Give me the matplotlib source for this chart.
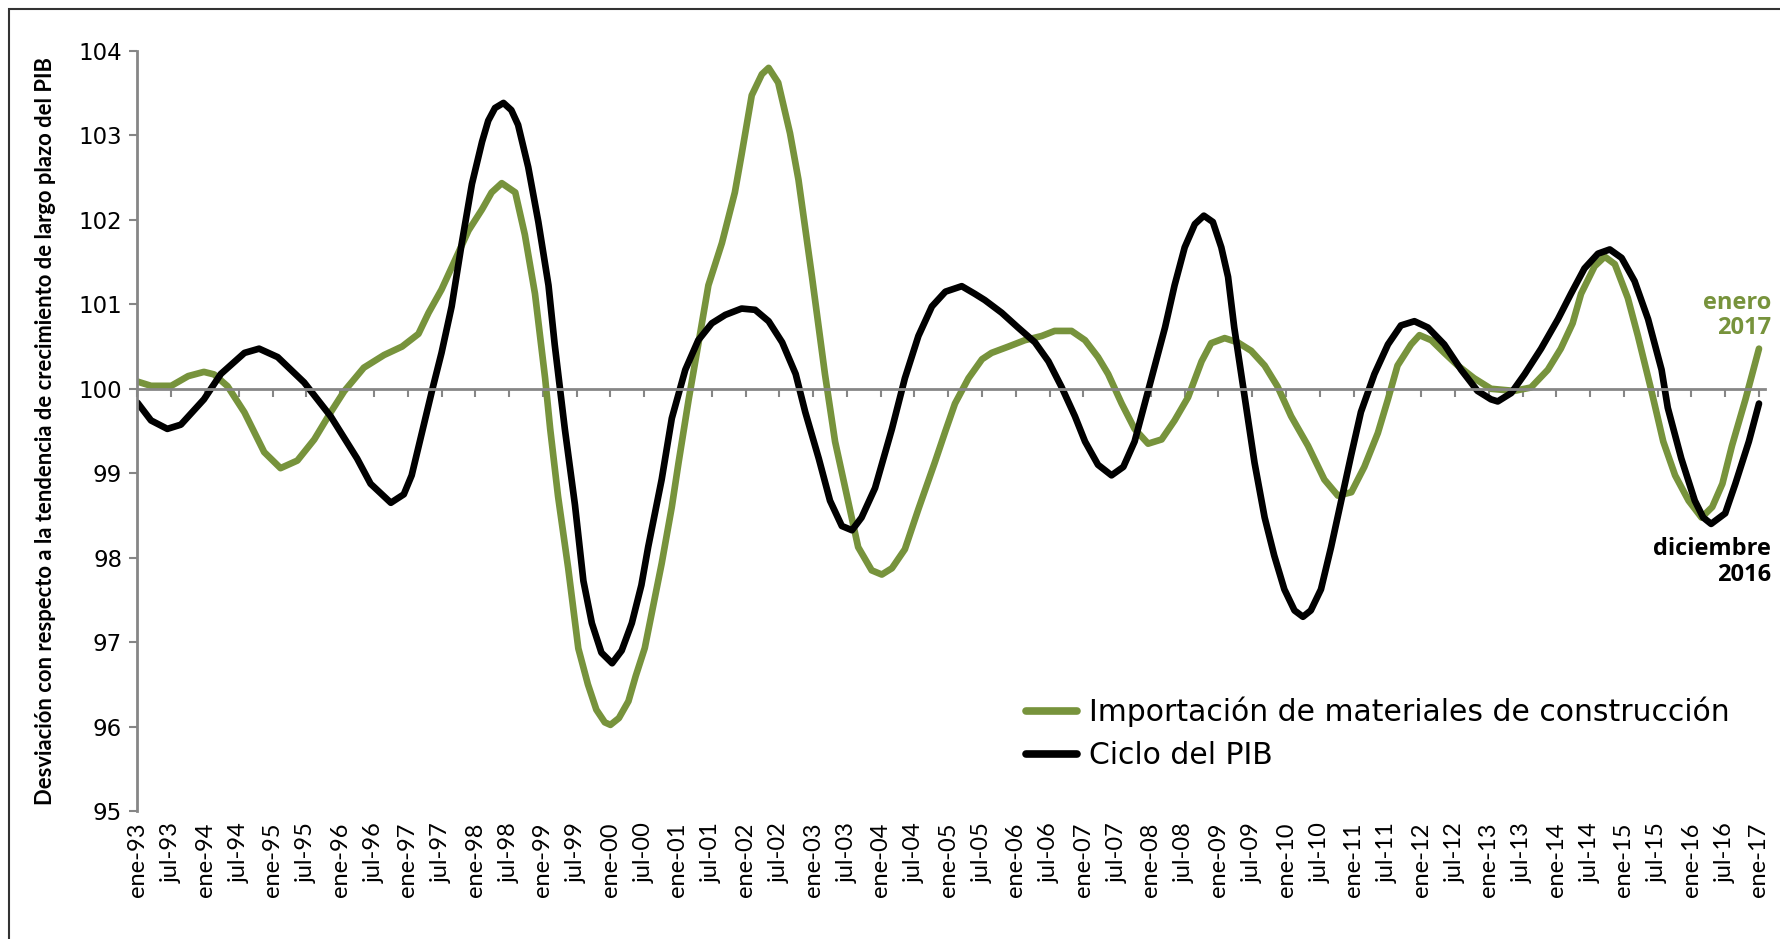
import matplotlib
matplotlib.use("Agg")
import matplotlib.pyplot as plt
from matplotlib.patches import Rectangle

# month offsets from ene-93
imp_months = [0, 2.4, 6, 9, 11.8, 13.6, 16, 19, 22.5, 25.4, 28.4, 31.4, 34.3, 36.7, 40.2, 43.8,
              47, 49.9, 51.7, 54, 56.4, 58.8, 61.2, 62.9, 64.7, 67.1, 68.8, 70.6, 72.4, 73.3,
              74.7, 76.5, 78.3, 80, 81.5, 83, 84, 85.5, 87.2, 88.5, 90.1, 93.1, 94.9, 96.1,
              97.9, 99.6, 101.4, 103.8, 106.1, 107.3, 109.1, 110.9, 112.1, 113.8, 115.9, 117.4,
              119.8, 122.1, 123.9, 125.7, 128, 130.4, 132.2, 134, 136.3, 138.7, 141.6, 143.5,
              145.2, 147.6, 150, 151.7, 154.7, 157.6, 160.6, 162.9, 165.9, 168.3, 170.6, 172.4,
              174.8, 177.1, 179.5, 181.9, 184.2, 186.6, 189, 190.7, 193.1, 195.4, 197.8, 200.2,
              202.5, 204.9, 207.9, 210.8, 213.2, 215.6, 217.9, 220.3, 222.1, 223.8, 226.2,
              227.7, 229.8, 232.1, 234.5, 237.4, 240.4, 244.5, 247.5, 250.5, 252.8, 254.9,
              256.4, 258.8, 260.6, 262.4, 264.7, 266.5, 268.9, 271, 273.1, 275.5, 277.8, 279.7,
              281.5, 283.2, 285.6, 288]
imp_values = [100.085, 100.035, 100.035, 100.15, 100.2, 100.17, 100.03, 99.72, 99.25, 99.06,
              99.15, 99.4, 99.72, 99.97, 100.25, 100.4, 100.5, 100.65, 100.9, 101.175, 101.525,
              101.875, 102.125, 102.325, 102.435, 102.325, 101.825, 101.125, 100.125, 99.525,
              98.725, 97.875, 96.925, 96.5, 96.2, 96.05, 96.02, 96.1, 96.3, 96.6, 96.93, 97.93,
              98.6, 99.125, 99.875, 100.525, 101.225, 101.725, 102.325, 102.775, 103.475,
              103.725, 103.8, 103.625, 103.025, 102.475, 101.325, 100.175, 99.375, 98.825,
              98.125, 97.85, 97.8, 97.875, 98.1, 98.575, 99.125, 99.5, 99.825, 100.125, 100.35,
              100.425, 100.5, 100.575, 100.625, 100.685, 100.685, 100.575, 100.375, 100.175,
              99.825, 99.525, 99.35, 99.4, 99.625, 99.9, 100.325, 100.54, 100.6, 100.55, 100.45,
              100.275, 100.025, 99.675, 99.325, 98.925, 98.735, 98.775, 99.075, 99.475, 99.875,
              100.275, 100.525, 100.635, 100.575, 100.425, 100.275, 100.125, 100.0, 99.975,
              100.015, 100.225, 100.475, 100.775, 101.125, 101.45, 101.565, 101.475, 101.075,
              100.625, 99.975, 99.375, 98.975, 98.675, 98.475, 98.6, 98.875, 99.325, 99.875,
              100.475]

pib_months = [0, 2.4, 5.3, 7.7, 11.8, 14.8, 19, 21.6, 24.9, 29.6, 34.3, 39, 41.4, 45, 47.3,
              48.7, 50.5, 52.3, 54, 55.8, 57.6, 59.4, 61.2, 62.3, 63.5, 65, 66.4, 67.6, 69.4,
              71.2, 73, 74.1, 75.9, 77.7, 79.2, 80.7, 82.4, 84.3, 86, 87.8, 89.5, 90.7, 93.1,
              94.9, 97.3, 99.6, 102, 104.4, 107.3, 109.7, 112.1, 114.5, 116.9, 118.6, 121, 123,
              125.1, 126.9, 128.6, 131, 134, 136.3, 138.7, 141.1, 143.5, 146.4, 148.7, 150.5,
              153.5, 156.4, 159.4, 161.8, 164.1, 166.5, 168.3, 170.6, 173, 175.1, 177.1, 178.9,
              180.7, 182.5, 184.2, 186, 187.8, 189.4, 191, 192.5, 193.7, 194.8, 196.6, 198.4,
              200.2, 201.9, 203.7, 205.5, 207, 208.4, 210.2, 212, 213.8, 215.6, 217.3, 219.7,
              222.1, 224.4, 226.8, 229.2, 232.1, 235.1, 238, 240.4, 241.6, 244, 246.4, 249.3,
              252.3, 254.6, 257, 259.4, 261.5, 263.6, 265.9, 268.3, 270.7, 271.8, 274.2, 276.6,
              278.1, 279.5, 282, 283.8, 286.2, 288]
pib_values = [99.835, 99.625, 99.525, 99.575, 99.875, 100.175, 100.425, 100.475, 100.375,
              100.075, 99.675, 99.175, 98.875, 98.65, 98.75, 98.975, 99.475, 99.975, 100.425,
              100.975, 101.725, 102.425, 102.925, 103.175, 103.325, 103.385, 103.3, 103.125,
              102.625, 101.975, 101.225, 100.525, 99.525, 98.625, 97.725, 97.225, 96.875, 96.75,
              96.9, 97.225, 97.675, 98.125, 98.925, 99.65, 100.225, 100.575, 100.775, 100.875,
              100.95, 100.935, 100.8, 100.55, 100.175, 99.725, 99.175, 98.675, 98.375, 98.325,
              98.475, 98.825, 99.525, 100.125, 100.625, 100.975, 101.15, 101.215, 101.125,
              101.05, 100.9, 100.725, 100.55, 100.325, 100.025, 99.675, 99.375, 99.1, 98.975,
              99.075, 99.375, 99.825, 100.275, 100.725, 101.225, 101.675, 101.95, 102.05,
              101.975, 101.675, 101.325, 100.725, 99.925, 99.125, 98.475, 98.025, 97.625,
              97.375, 97.3, 97.375, 97.625, 98.125, 98.675, 99.225, 99.725, 100.175, 100.525,
              100.75, 100.8, 100.725, 100.525, 100.225, 99.975, 99.875, 99.85, 99.95, 100.175,
              100.475, 100.825, 101.125, 101.425, 101.6, 101.65, 101.55, 101.275, 100.825,
              100.225, 99.775, 99.175, 98.675, 98.475, 98.4, 98.525, 98.875, 99.375, 99.825]

years = list(range(93, 100)) + list(range(0, 18))
tick_labels = []
for y in years:
    tick_labels.append("ene-%02d" % y)
    tick_labels.append("jul-%02d" % y)
tick_labels = tick_labels[:49]  # ene-93 .. ene-17
tick_pos = list(range(0, 289, 6))

green = "#77933C"
gray = "#868686"

fig = plt.figure(figsize=(17.81, 9.39), dpi=100)
ax = fig.add_axes([0.0772, 0.1363, 0.9136, 0.8094])

ax.plot(imp_months, imp_values, color=green, lw=4.8, solid_capstyle="round",
        label="Importación de materiales de construcción")
ax.plot(pib_months, pib_values, color="black", lw=4.8, solid_capstyle="round",
        label="Ciclo del PIB")

ax.set_xlim(0, 289)
ax.set_ylim(95, 104)
ax.set_yticks(range(95, 105))
ax.tick_params(axis="y", direction="out", length=6, width=1.5, color=gray,
               labelsize=16.5, pad=5)
for t in ax.get_yticklabels():
    t.set_fontfamily("DejaVu Sans")

# horizontal axis crosses at 100
for s in ["top", "right"]:
    ax.spines[s].set_visible(False)
ax.spines["left"].set_color(gray)
ax.spines["left"].set_linewidth(2)
ax.spines["bottom"].set_position(("data", 100))
ax.spines["bottom"].set_color(gray)
ax.spines["bottom"].set_linewidth(2)
ax.set_xticks(tick_pos)
ax.tick_params(axis="x", direction="out", length=6, width=1.5, color=gray, labelbottom=False)

sec = ax.secondary_xaxis(0)
sec.set_xticks(tick_pos)
sec.set_xticklabels(tick_labels, rotation=90, fontfamily="Lato", fontsize=17)
sec.tick_params(length=0, pad=8)
sec.spines["bottom"].set_visible(False)

ax.set_ylabel("Desviación con respecto a la tendencia de crecimiento de largo plazo del PIB",
              fontfamily="Lato", fontweight="bold", fontsize=15.8, labelpad=16)

leg = ax.legend(loc="lower right", bbox_to_anchor=(0.995, 0.018), frameon=False,
                prop={"family": "DejaVu Sans", "size": 21.5}, handlelength=1.7,
                handletextpad=0.4, labelspacing=0.48)
for line in leg.get_lines():
    line.set_linewidth(5.5)

ax.text(1.004, 0.652, "enero\n2017", transform=ax.transAxes, ha="right", va="center",
        color=green, fontweight="bold", fontsize=17, fontfamily="Open Sans", linespacing=1.05)
ax.text(1.004, 0.328, "diciembre\n2016", transform=ax.transAxes, ha="right", va="center",
        color="black", fontweight="bold", fontsize=17, fontfamily="Open Sans", linespacing=1.1)

fig.patches.append(Rectangle((9 / 1781, -0.1), 1.2, 1 - 9 / 939 + 0.1, transform=fig.transFigure,
                             fill=False, edgecolor="#333333", lw=1.5))

fig.savefig("out.png", dpi=100)
